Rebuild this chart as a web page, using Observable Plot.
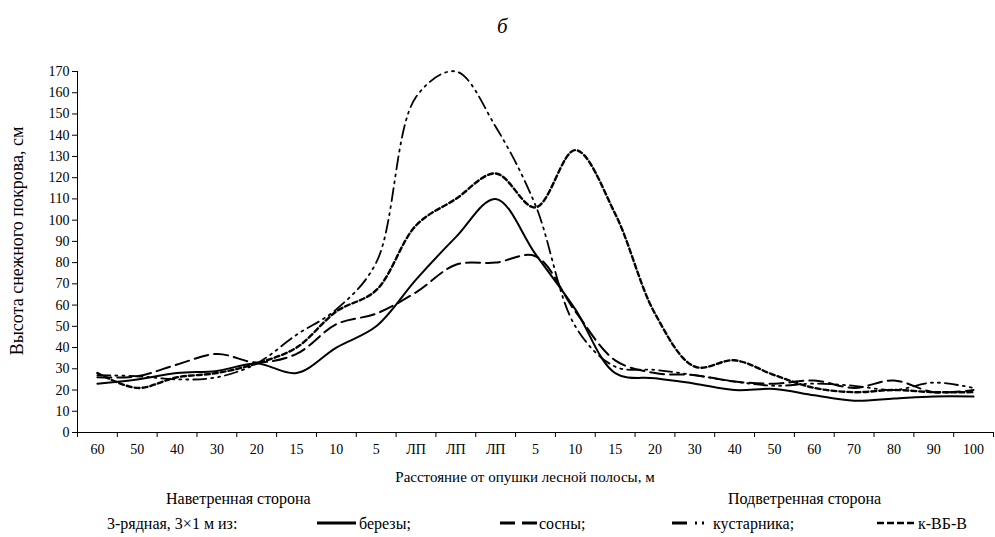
<!DOCTYPE html>
<html>
<head>
<meta charset="utf-8">
<script src="https://cdn.jsdelivr.net/npm/d3@7"></script>
<script src="https://cdn.jsdelivr.net/npm/@observablehq/plot@0.6"></script>
<style>
  body { margin: 0; background: #fff; color: #000; font-family: "Liberation Serif", "Times New Roman", serif; }
  #wrap { position: relative; width: 995px; height: 537px; overflow: hidden; }
  .t { position: absolute; white-space: nowrap; font-size: 15px; line-height: 1; }
  .sw { position: absolute; }
</style>
</head>
<body>
<div id="wrap">
  <div class="t" style="left:497px;top:16px;font-size:21px;font-style:italic">б</div>
  <div id="chart" style="position:absolute;left:0;top:50px"></div>
  <div class="t" id="ylab" style="left:17px;top:241px;font-size:18px;transform:translate(-50%,-50%) rotate(-90deg)"></div>
  <div class="t" id="xlab" style="left:525px;top:470px;font-size:15px;transform:translateX(-50%)"></div>
  <div class="t" id="left" style="left:166px;top:491px;font-size:16px"></div>
  <div class="t" id="right" style="left:728px;top:491px;font-size:16px"></div>
  <div id="legend"></div>
</div>
<script>
// Distances from the forest-belt edge (windward → belt → leeward)
const categories = ["60","50","40","30","20","15","10","5","ЛП","ЛП","ЛП","5","10","15","20","30","40","50","60","70","80","90","100"];

// Snow depth, cm, for each 3-row belt type
const birch  = [23, 25, 28, 29, 32.5, 28, 40, 50, 72, 92, 110, 84, 58, 28, 25.5, 23, 20, 20.5, 17.5, 15, 16, 17, 17];
const pine   = [26, 26.5, 32, 37, 33, 37, 51, 56, 66, 79, 80, 83, 57, 34, 28, 27, 24, 23, 24.5, 21, 24.5, 19, 20];
const shrub  = [27, 26.5, 25, 26, 32.5, 46, 58, 80, 158, 170, 144, 107, 50, 31, 29.5, 27, 24, 22, 23, 22, 20, 23.5, 21];
const mixed  = [28, 21, 26, 28, 32.5, 40, 57, 67, 97.5, 110, 122, 106, 133, 103, 56, 31, 34, 27, 21, 19, 20, 19, 19];

const seriesNames = ["березы;", "сосны;", "кустарника;", "к-ВБ-В"];
const seriesValues = [birch, pine, shrub, mixed];
const dashes = [null, "14,6", "13,5,2,5,2,5", "5,3"];
const legendDashes = [null, "15,7", "15,8,2,5,2,5", "7,3"];
const widths = [2, 2, 1.8, 2.4];

const yTicks = d3.range(0, 171, 10);
const yTitle = "Высота снежного покрова, см";
const xTitle = "Расстояние от опушки лесной полосы, м";
const sideLeft = "Наветренная сторона";
const sideRight = "Подветренная сторона";
const legendTitle = "3-рядная, 3×1 м из:";

const rows = seriesNames.flatMap((name, s) =>
  seriesValues[s].map((v, i) => ({ name, pos: i + 0.5, value: v }))
);

const chart = Plot.plot({
  width: 995,
  height: 437,
  marginLeft: 77,
  marginRight: 2,
  marginTop: 21,
  marginBottom: 55,
  x: { domain: [0, categories.length], axis: null },
  y: { domain: [0, 170], axis: null },
  style: { fontFamily: "Liberation Serif, serif", fontSize: "14px", color: "#000", background: "transparent" },
  marks: [
    Plot.axisY({ ticks: yTicks, tickSize: 5, tickPadding: 3, label: null, fontSize: 14 }),
    Plot.axisX({ ticks: d3.range(0, categories.length + 1), tickSize: 5, tickFormat: () => "", label: null }),
    Plot.axisX({
      ticks: categories.map((_, i) => i + 0.5),
      tickSize: 0,
      tickPadding: 12,
      tickFormat: d => categories[Math.floor(d)],
      label: null,
      fontSize: 14
    }),
    Plot.ruleX([0], { stroke: "#000" }),
    Plot.ruleY([0], { stroke: "#000" }),
    ...seriesNames.map((name, s) =>
      Plot.line(rows.filter(r => r.name === name), {
        x: "pos",
        y: "value",
        curve: "catmull-rom",
        stroke: "#000",
        strokeWidth: widths[s],
        strokeDasharray: dashes[s]
      })
    )
  ]
});
document.getElementById("chart").append(chart);

document.getElementById("ylab").textContent = yTitle;
document.getElementById("xlab").textContent = xTitle;
document.getElementById("left").textContent = sideLeft;
document.getElementById("right").textContent = sideRight;

// Legend row: caption, then a line swatch and label for each series
const legend = document.getElementById("legend");
const lt = document.createElement("div");
lt.className = "t";
lt.style.left = "107px";
lt.style.top = "516px";
lt.style.fontSize = "16px";
lt.textContent = legendTitle;
legend.append(lt);

const swatchX = [317, 500, 672, 877];
const swatchW = [39, 37, 36, 40];
const labelGap = [3, 2, 5, 1];
seriesNames.forEach((name, s) => {
  const svg = d3.create("svg")
    .attr("class", "sw")
    .attr("width", swatchW[s])
    .attr("height", 10)
    .style("left", swatchX[s] + "px")
    .style("top", "518px");
  svg.append("line")
    .attr("x1", 0).attr("x2", swatchW[s]).attr("y1", 5).attr("y2", 5)
    .attr("stroke", "#000")
    .attr("stroke-width", s === 3 ? 2.6 : 2.8)
    .attr("stroke-dasharray", legendDashes[s]);
  legend.append(svg.node());
  const lab = document.createElement("div");
  lab.className = "t";
  lab.style.left = (swatchX[s] + swatchW[s] + labelGap[s]) + "px";
  lab.style.top = "516px";
  lab.style.fontSize = "16px";
  lab.textContent = name;
  legend.append(lab);
});
</script>
</body>
</html>
